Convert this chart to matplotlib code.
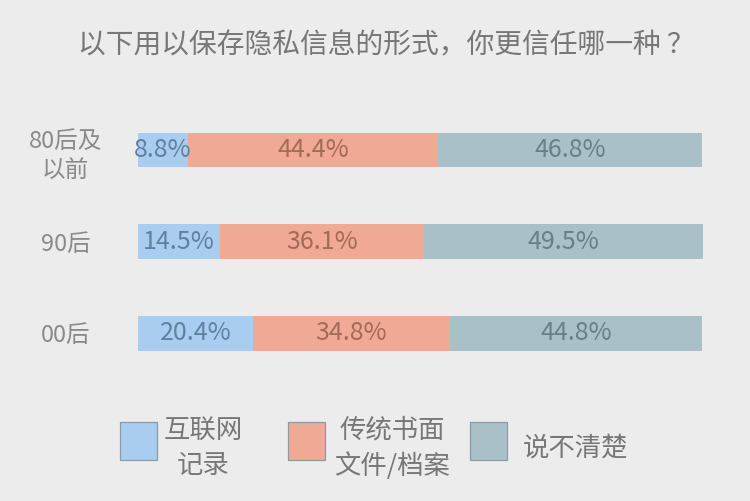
import numpy as np
import matplotlib.pyplot as plt
from matplotlib.patches import Rectangle

plt.rcParams['font.family'] = ['Noto Sans CJK SC', 'DejaVu Sans']

# -------------------- Datos --------------------
grupos = ["80后及\n以前", "90后", "00后"]
series = ["互联网\n记录", "传统书面\n文件/档案", "说不清楚"]
internet = [8.8, 14.5, 20.4]
papel = [44.4, 36.1, 34.8]
no_sabe = [46.8, 49.5, 44.8]

colores = ["#a9cdf1", "#efa994", "#aac0c9"]
colores_txt = ["#62809d", "#a46a58", "#66808a"]
fondo = "#ececec"

fig = plt.figure(figsize=(7.5, 5.01), dpi=100, facecolor=fondo)
ax = fig.add_axes([0.184, 0.2016, 0.7533, 0.6188])
ax.set_facecolor(fondo)

# -------------------- Barras apiladas --------------------
y = np.arange(len(grupos))
izq = np.zeros(len(grupos))
for vals, col, ctxt in zip([internet, papel, no_sabe], colores, colores_txt):
    vals = np.array(vals)
    barras = ax.barh(y, vals, left=izq, height=0.38, color=col, edgecolor='none')
    for b, v in zip(barras, vals):
        ax.text(b.get_x() + b.get_width() / 2, b.get_y() + b.get_height() / 2,
                f"{v:.1f}%", ha='center', va='center', fontsize=18, color=ctxt)
    izq += vals

ax.set_xlim(0, izq.max())
ax.set_ylim(2.73, -0.656)
ax.set_yticks(y)
ax.set_yticklabels(grupos, fontsize=17, color="#8a8a8a", linespacing=1.35)
for t in ax.get_yticklabels():
    t.set_horizontalalignment('center')
    t.set_multialignment('center')
ax.tick_params(axis='y', length=0, pad=52)
ax.set_xticks([])
for s in ax.spines.values():
    s.set_visible(False)

fig.text(0.515, 0.91, "以下用以保存隐私信息的形式，你更信任哪一种 ？",
         ha='center', va='center', fontsize=20, color="#777777")

# -------------------- Leyenda --------------------
W, H = 750, 501
cuadros_x = [120, 288, 470]
textos_x = [203, 392, 576]
for cx, tx, col, lab in zip(cuadros_x, textos_x, colores, series):
    fig.patches.append(Rectangle((cx / W, 1 - 460 / H), 37 / W, 38 / H,
                                 transform=fig.transFigure, facecolor=col,
                                 edgecolor="#8d9aa3", linewidth=0.9))
    fig.text(tx / W, 1 - 448 / H, lab, ha='center', va='center', fontsize=19,
             color="#777777", linespacing=1.4, multialignment='center')

fig.savefig("out.png", dpi=100, facecolor=fondo)
